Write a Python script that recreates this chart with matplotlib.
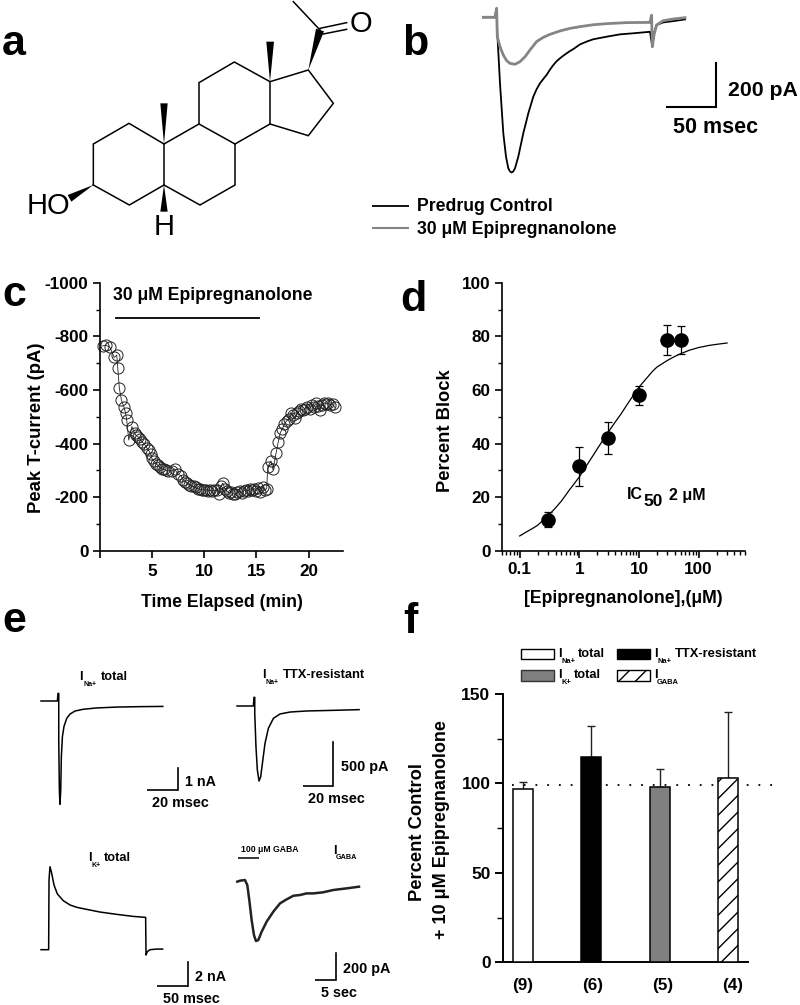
import matplotlib
matplotlib.use('Agg')
import matplotlib.pyplot as plt
from matplotlib.patches import Polygon, Rectangle
from matplotlib.ticker import FixedLocator, NullFormatter, LogLocator

plt.rcParams['font.family'] = ['Liberation Sans', 'DejaVu Sans']
plt.rcParams['font.weight'] = 'bold'
plt.rcParams['hatch.linewidth'] = 1.0

W, H = 800, 1005

# ---------- data ----------
# panel a: steroid skeleton
ring_bonds = [
    [(280, 555), (280, 432), (387, 370), (492, 432), (492, 555), (388, 615), (280, 555)],
    [(492, 432), (597, 372), (705, 432), (705, 555), (600, 615), (492, 555)],
    [(597, 372), (597, 248), (703, 186), (810, 245), (810, 372), (705, 432)],
    [(810, 245), (925, 210), (1000, 310), (925, 407), (810, 372)],
    [(960, 90), (880, 5)],
    [(960, 85), (1040, 68)],
    [(970, 102), (1040, 88)],
]
wedges = [
    [(492, 432), (481, 310), (503, 310)],
    [(810, 245), (799, 125), (822, 125)],
    [(925, 210), (948, 86), (972, 94)],
    [(492, 555), (481, 635), (503, 635)],
    [(280, 555), (203, 585), (214, 605)],
]

# panel b
b_t_control = [0, 11.7, 13.3, 14, 16.7, 20, 22.7, 25, 26.7, 28.3, 30, 31.7, 35, 40, 42.5, 45, 47.5, 50, 53.3,
               56.7, 60, 63.3, 66.7, 70, 73.3, 76.7, 80, 83.3, 86.7, 90, 96.7, 103.3, 110, 123.3, 136.7, 150,
               166.7, 169, 170.7, 173.3, 180, 190, 201.7]
b_i_control = [2, 2, 44, -73, -307, -541, -651, -705, -720, -725, -720, -705, -651, -541, -495, -448, -409, -370,
               -335, -307, -287, -268, -243, -222, -204, -190, -178, -167, -156, -147, -125, -112, -101, -89,
               -78, -73, -66, -136, -73, -34, -22, -16, -8]
b_t_drug = [0, 11.7, 13.3, 14, 16.7, 20, 23.3, 26.7, 31.7, 36.7, 41.7, 46.7, 53.3, 60, 66.7, 76.7, 86.7,
            96.7, 110, 123.3, 143.3, 166.7, 168.3, 169, 170.7, 173.3, 180, 190, 201.7]
b_i_drug = [2, 2, 44, -89, -136, -175, -201, -214, -218, -206, -183, -151, -112, -92, -78, -62, -50,
            -42, -33, -28, -23, -22, 12, -136, -81, -34, -14, -6, 0]

# panel c
c_time = [0.3, 0.6, 1.0, 1.4, 1.65, 1.75, 1.9, 2.1, 2.35, 2.5, 2.6, 2.8, 3.1, 3.35, 3.5, 3.7, 3.9, 4.1, 4.3,
          4.5, 4.7, 4.9, 5.0, 5.2, 5.4, 5.6, 5.8, 6.0, 6.2, 6.4, 6.6, 6.9, 7.2, 7.5, 7.8, 8.0, 8.2, 8.4, 8.6,
          8.8, 9.0, 9.2, 9.4, 9.6, 9.8, 10.0, 10.2, 10.4, 10.6, 10.8, 11.0, 11.2, 11.4, 11.6, 11.8, 12.0,
          12.2, 12.4, 12.6, 12.8, 13.0, 13.2, 13.4, 13.6, 13.8, 14.0, 14.2, 14.4, 14.6, 14.8, 15.0, 15.2,
          15.4, 15.6, 15.8, 16.0, 16.1, 16.4, 16.6, 16.9, 17.1, 17.3, 17.5, 17.7, 17.9, 18.1, 18.3, 18.5,
          18.7, 18.9, 19.1, 19.3, 19.5, 19.7, 19.9, 20.1, 20.3, 20.5, 20.7, 20.9, 21.1, 21.3, 21.5, 21.7,
          21.9, 22.1, 22.3, 22.5]
c_peak = [-764, -767, -759, -721, -730, -680, -606, -562, -535, -512, -488, -413, -463, -438, -430, -425, -415,
          -405, -398, -385, -375, -360, -345, -335, -325, -318, -312, -305, -303, -300, -298, -298, -305,
          -285, -280, -265, -258, -252, -245, -240, -240, -236, -232, -230, -228, -228, -226, -224, -226,
          -222, -226, -225, -212, -240, -252, -232, -222, -215, -220, -212, -210, -218, -222, -216, -224,
          -228, -222, -232, -226, -232, -224, -235, -220, -238, -225, -232, -312, -335, -303, -365, -405,
          -440, -455, -472, -485, -490, -515, -508, -495, -512, -520, -527, -525, -530, -535, -530, -545,
          -535, -550, -540, -525, -545, -552, -548, -550, -545, -548, -535]
c_drug_bar = [1.55, 15.3]
c_drug_level = [-868, -868]

# panel d
d_conc = [0.3, 1, 3, 10, 30, 50]
d_block = [11.5, 31.5, 42, 58, 78.5, 78.5]
d_upper = [14.3, 38.7, 48.2, 61.5, 84.2, 83.7]
d_lower = [8.7, 24.2, 36, 54.5, 73.2, 73.5]
d_fit_x = [0.1, 0.13, 0.17, 0.2, 0.3, 0.4, 0.5, 0.7, 1, 1.3, 1.7, 2, 3, 4, 5, 7, 10, 13, 17, 20, 30, 40, 50,
           70, 100, 150, 200, 300]
d_fit_y = [5.5, 7, 8.5, 9.5, 13, 16, 18.5, 23, 27.5, 31.5, 35.5, 38, 44, 48, 51, 56, 61, 64, 67, 68.5, 71,
           72.5, 73.5, 74.8, 75.8, 76.6, 77, 77.5]

# panel e
na_t = [0, 10.7, 11.1, 11.6, 11.6, 12, 12.4, 12.9, 13.3, 14, 15, 16.8, 19, 22.3, 27.7, 36.4, 49.5, 64.8, 79.6]
na_i = [0, 0, 0.35, 0.35, -1.80, -4.1, -4.76, -4.1, -2.57, -1.64, -1.18, -0.8, -0.6, -0.46, -0.38, -0.32,
        -0.28, -0.26, -0.25]
ttx_t = [0, 10.7, 11.1, 11.6, 11.6, 12.4, 13.3, 14.4, 15.5, 16.6, 18.3, 20.5, 23.8, 28.1, 34.7, 45.6, 63, 79.8]
ttx_i = [0, 0, 98, 98, -83, -459, -722, -846, -797, -647, -421, -252, -139, -90, -68, -56, -49, -41]
k_t = [0, 12.6, 13.2, 14.8, 17.6, 21.4, 26.9, 36.8, 47.8, 58.8, 75.2, 97.2, 124.6, 152.1, 172.4, 173, 175.1,
       179.5, 190.5, 200.4]
k_i = [0, 0, 5.73, 6.83, 6.29, 5.33, 4.59, 4.03, 3.68, 3.49, 3.32, 3.10, 2.91, 2.74, 2.66, -0.44, -0.16, 0,
       0.05, 0.05]
gaba_t = [0, 0.66, 1.88, 2.46, 2.95, 3.52, 4.09, 4.59, 5.16, 5.98, 7.21, 8.85, 10.5, 12.1, 13.8, 15.4, 17.0,
          18.7, 21.1, 23.6, 26.9, 29.9]
gaba_i = [-7, 0, 5, -32, -142, -288, -398, -442, -435, -374, -300, -227, -166, -137, -110, -105, -93, -93,
          -85, -68, -56, -44]

# panel f
f_groups = ['(9)', '(6)', '(5)', '(4)']
f_values = [97, 115, 98, 103]
f_upper_err = [4, 17, 10, 37]
f_colors = ['white', 'black', '#808080', 'white']
f_hatches = [None, None, None, '//']
f_ref = 99

# ---------- helpers ----------
fig = plt.figure(figsize=(W / 100, H / 100), dpi=100, facecolor='white')


def axes_px(l, t, r, b):
    return fig.add_axes([l / W, 1 - b / H, (r - l) / W, (b - t) / H])


def trace_axes(x_px, y_px, px_per_x, px_per_y):
    ax = fig.add_axes([0, 0, 1, 1])
    ax.set_xlim(-x_px / px_per_x, (W - x_px) / px_per_x)
    ax.set_ylim((y_px - H) / px_per_y, y_px / px_per_y)
    ax.axis('off')
    ax.patch.set_visible(False)
    return ax


def style_axes(ax, lw=1.2):
    for s in ('top', 'right'):
        ax.spines[s].set_visible(False)
    for s in ('left', 'bottom'):
        ax.spines[s].set_linewidth(lw)
    ax.tick_params(which='major', length=5, width=lw, labelsize=12.3, pad=3)
    ax.tick_params(which='minor', length=3, width=1.0)
    ax.patch.set_visible(False)


# ---------- panel c ----------
axc = axes_px(99.5, 282.7, 343, 550.7)
style_axes(axc)
axc.plot(c_time, c_peak, '-', color='#222222', lw=0.6, marker='o', ms=8.0, mfc='none', mec='#222222', mew=0.7,
         clip_on=False)
axc.plot(c_drug_bar, c_drug_level, color='black', lw=1.3)
axc.set_xlim(0, 23.3)
axc.set_ylim(0, -1000)
axc.set_xticks([0, 5, 10, 15, 20])
axc.set_xticklabels(['', '5', '10', '15', '20'])
axc.set_yticks([0, -200, -400, -600, -800, -1000])
axc.set_yticklabels(['0', '-200', '-400', '-600', '-800', '-1000'])
axc.yaxis.set_minor_locator(FixedLocator([-100, -300, -500, -700, -900]))
axc.tick_params(axis='x', pad=4.5)

# ---------- panel d ----------
axd = axes_px(501.7, 282.7, 745, 550.7)
style_axes(axd)
axd.set_xscale('log')
axd.plot(d_fit_x, d_fit_y, color='black', lw=0.9)
axd.errorbar(d_conc, d_block,
             yerr=[[b - l for b, l in zip(d_block, d_lower)], [u - b for b, u in zip(d_block, d_upper)]],
             fmt='o', color='black', ms=9.5, elinewidth=0.9, capsize=3, capthick=0.9)
axd.set_xlim(0.05, 600)
axd.set_ylim(0, 100)
axd.set_xticks([0.1, 1, 10, 100])
axd.set_xticklabels(['0.1', '1', '10', '100'])
axd.xaxis.set_minor_locator(LogLocator(base=10, subs=range(2, 10), numticks=12))
axd.xaxis.set_minor_formatter(NullFormatter())
axd.set_yticks([0, 20, 40, 60, 80, 100])
axd.yaxis.set_minor_locator(FixedLocator([10, 30, 50, 70, 90]))
axd.tick_params(axis='x', pad=3)

# ---------- panel f ----------
axf = axes_px(503, 694, 748, 962.3)
style_axes(axf, lw=1.4)
xpos = list(range(len(f_values)))
axf.plot([-0.16, 3.66], [f_ref, f_ref], color='black', lw=1.3, linestyle=(0, (1, 5.5)), clip_on=False, zorder=1)
axf.errorbar(xpos, f_values, yerr=[[0] * 4, f_upper_err], fmt='none', ecolor='#222222', elinewidth=1.0,
             capsize=3, capthick=1.0, zorder=2)
axf.bar(xpos, f_values, width=0.293, color=f_colors, edgecolor='black', linewidth=1.1, hatch=None, zorder=3)
for i, h in enumerate(f_hatches):
    if h:
        axf.patches[i].set_hatch(h)
axf.set_xlim(-0.293, 3.29)
axf.set_ylim(0, 150)
axf.set_xticks([])
axf.set_yticks([0, 50, 100, 150])
axf.yaxis.set_minor_locator(FixedLocator([25, 75, 125]))
axf.tick_params(axis='y', which='major', length=6, labelsize=12.5)
axf.tick_params(axis='y', which='minor', length=4)

# ---------- traces ----------
axb = trace_axes(483.3, 17.7, 1.0, 0.2135)
axb.plot(b_t_control, b_i_control, color='black', lw=1.3)
axb.plot(b_t_drug, b_i_drug, color='#858585', lw=2.0)
trace_axes(41, 701, 1.53, 21.7).plot(na_t, na_i, color='black', lw=1.1)
trace_axes(237, 706, 1.53, 0.0887).plot(ttx_t, ttx_i, color='black', lw=1.1)
trace_axes(41, 949.7, 0.607, 12.15).plot(k_t, k_i, color='black', lw=1.1)
trace_axes(237.3, 880.7, 4.07, 0.1365).plot(gaba_t, gaba_i, color='#222222', lw=1.8)

# ---------- overlay ----------
px = fig.add_axes([0, 0, 1, 1], zorder=20)
px.set_xlim(0, W)
px.set_ylim(H, 0)
px.axis('off')
px.patch.set_visible(False)


def txt(x, y, s, size=12, ha='left', va='center', **kw):
    px.text(x, y, s, fontsize=size, ha=ha, va=va, color='black', **kw)


def hline(x0, x1, y, lw=1.2, color='black'):
    px.plot([x0, x1], [y, y], color=color, lw=lw, solid_capstyle='butt')


def vline(x, y0, y1, lw=1.2):
    px.plot([x, x], [y0, y1], color='black', lw=lw, solid_capstyle='projecting')


def scale_bar(x0, x1, y_h, y_top, lw=1.2):
    hline(x0, x1, y_h, lw)
    vline(x1, y_top, y_h, lw)


# structure (panel a) on a 3x grid of the figure
for bond in ring_bonds:
    px.plot([p[0] / 3 for p in bond], [p[1] / 3 for p in bond], color='black', lw=1.1, solid_joinstyle='miter')
for w in wedges:
    px.add_patch(Polygon([(p[0] / 3, p[1] / 3) for p in w], closed=True, color='black', lw=0))
txt(27, 206, 'HO', 21, weight='normal')
txt(164, 227, 'H', 21, ha='center', weight='normal')
txt(361, 24, 'O', 21, ha='center', weight='normal')

# panel letters
for x, y, s in [(2, 55, 'a'), (402, 55, 'b'), (2, 306, 'c'), (400, 311, 'd'), (2, 632, 'e'), (403, 633, 'f')]:
    txt(x, y, s, 31, va='baseline')

# panel b annotations
scale_bar(666, 716, 107, 63, 1.5)
txt(728, 90, '200 pA', 15.3)
txt(716, 127, '50 msec', 15.5, ha='center')
hline(372, 409, 206, 1.3)
hline(372, 409, 228, 1.5, '#858585')
txt(417, 206, 'Predrug Control', 12.7)
txt(417, 229, '30 μM Epipregnanolone', 12.7)

# panel c annotations
txt(113, 295, '30 μM Epipregnanolone', 12.7)
txt(37, 428, 'Peak T-current (pA)', 13.3, ha='center', rotation=90)
txt(222, 602, 'Time Elapsed (min)', 12.7, ha='center')

# panel d annotations
txt(445, 431, 'Percent Block', 13.2, ha='center', rotation=90)
txt(623, 598, '[Epipregnanolone],(μM)', 12.7, ha='center')
txt(627, 494, 'IC', 11.5)
txt(643, 501, '50', 12.5)
txt(669, 495, '2 μM', 11.5)

# panel e annotations
txt(79, 677, 'I', 9.2)
txt(83, 684, 'Na+', 5)
txt(101, 677, 'total', 9.2)
txt(262, 675, 'I', 9.2)
txt(266, 682, 'Na+', 5)
txt(283, 675, 'TTX-resistant', 9.3)
txt(88, 858, 'I', 9.2)
txt(91, 865, 'K+', 5)
txt(104, 858, 'total', 9.2)
txt(241, 849, '100 μM GABA', 6.2)
hline(238, 259, 858, 1.1)
txt(333, 851, 'I', 9.2)
txt(336, 857, 'GABA', 5.2)

scale_bar(147, 177.7, 789.7, 768.3)
txt(185, 782, '1 nA', 10.3)
txt(180, 803, '20 msec', 10.4, ha='center')
scale_bar(302.7, 333.3, 786, 741.7)
txt(341, 767, '500 pA', 10.4)
txt(336, 799, '20 msec', 10.4, ha='center')
scale_bar(157.3, 187.7, 986, 961.7)
txt(195, 977, '2 nA', 10.3)
txt(191, 999, '50 msec', 10.4, ha='center')
scale_bar(315.3, 335.7, 979.7, 952.7)
txt(343, 969, '200 pA', 10.4)
txt(339, 993, '5 sec', 10.4, ha='center')

# panel f annotations
txt(417, 832, 'Percent Control', 13.2, ha='center', rotation=90)
txt(441, 830, '+ 10 μM Epipregnanolone', 13, ha='center', rotation=90)
for x, s in zip([523, 593, 663, 733], f_groups):
    txt(x, 985, s, 12.3, ha='center')
px.add_patch(Rectangle((520.5, 649), 33, 10, facecolor='white', edgecolor='black', lw=1.0))
px.add_patch(Rectangle((617, 649), 32.5, 10, facecolor='black', edgecolor='black', lw=1.0))
px.add_patch(Rectangle((520.5, 670), 33, 10.5, facecolor='#808080', edgecolor='#333333', lw=1.0))
px.add_patch(Rectangle((616.5, 670), 33, 10.5, facecolor='white', edgecolor='black', lw=1.0, hatch='//'))
txt(558, 654, 'I', 9.3)
txt(561, 661, 'Na+', 5.4)
txt(578, 654, 'total', 9.3)
txt(654, 654, 'I', 9.3)
txt(657, 661, 'Na+', 5.4)
txt(675, 654, 'TTX-resistant', 9.3)
txt(558, 675, 'I', 9.3)
txt(561, 682, 'K+', 5.4)
txt(574, 675, 'total', 9.3)
txt(654, 675, 'I', 9.3)
txt(657, 682, 'GABA', 5.4)

fig.savefig('out.png', dpi=100)
